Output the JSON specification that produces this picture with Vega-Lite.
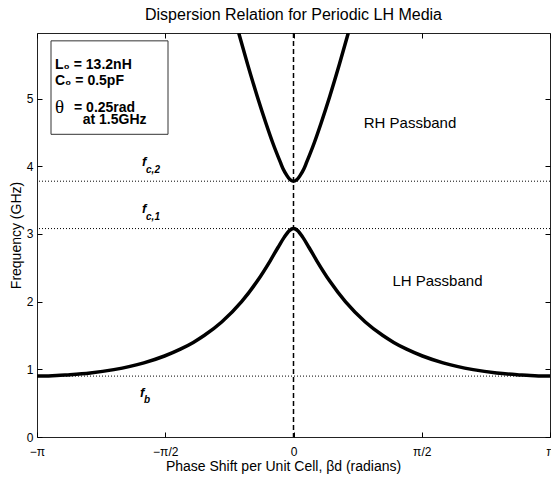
{
  "$schema": "https://vega.github.io/schema/vega-lite/v6.json",
  "width": 513,
  "height": 404,
  "autosize": "none",
  "padding": {"left": 37, "top": 33, "right": 1, "bottom": 44},
  "title": {"text": "Dispersion Relation for Periodic LH Media", "fontSize": 16, "font": "Liberation Sans", "fontWeight": "normal", "color": "black", "offset": 9, "anchor": "middle"},
  "config": {"font": "Liberation Sans", "view": {"stroke": "#222", "strokeWidth": 1}},
  "datasets": {
    "curves": [
      {"band": "LH", "beta": -3.14159, "f": 0.9}, {"band": "LH", "beta": -3.0, "f": 0.902}, {"band": "LH", "beta": -2.9, "f": 0.907}, {"band": "LH", "beta": -2.777, "f": 0.917}, {"band": "LH", "beta": -2.489, "f": 0.946}, {"band": "LH", "beta": -2.2005, "f": 0.996}, {"band": "LH", "beta": -1.8325, "f": 1.096}, {"band": "LH", "beta": -1.5798, "f": 1.197}, {"band": "LH", "beta": -1.3854, "f": 1.298}, {"band": "LH", "beta": -1.2274, "f": 1.398}, {"band": "LH", "beta": -1.0947, "f": 1.499}, {"band": "LH", "beta": -0.8795, "f": 1.7}, {"band": "LH", "beta": -0.6355, "f": 2.0}, {"band": "LH", "beta": -0.4458, "f": 2.3}, {"band": "LH", "beta": -0.2871, "f": 2.6}, {"band": "LH", "beta": -0.1901, "f": 2.8}, {"band": "LH", "beta": -0.1148, "f": 2.95}, {"band": "LH", "beta": -0.0508, "f": 3.05},
      {"band": "LH", "beta": 0, "f": 3.08},
      {"band": "LH", "beta": 0.0508, "f": 3.05}, {"band": "LH", "beta": 0.1148, "f": 2.95}, {"band": "LH", "beta": 0.1901, "f": 2.8}, {"band": "LH", "beta": 0.2871, "f": 2.6}, {"band": "LH", "beta": 0.4458, "f": 2.3}, {"band": "LH", "beta": 0.6355, "f": 2.0}, {"band": "LH", "beta": 0.8795, "f": 1.7}, {"band": "LH", "beta": 1.0947, "f": 1.499}, {"band": "LH", "beta": 1.2274, "f": 1.398}, {"band": "LH", "beta": 1.3854, "f": 1.298}, {"band": "LH", "beta": 1.5798, "f": 1.197}, {"band": "LH", "beta": 1.8325, "f": 1.096}, {"band": "LH", "beta": 2.2005, "f": 0.996}, {"band": "LH", "beta": 2.489, "f": 0.946}, {"band": "LH", "beta": 2.777, "f": 0.917}, {"band": "LH", "beta": 2.9, "f": 0.907}, {"band": "LH", "beta": 3.0, "f": 0.902}, {"band": "LH", "beta": 3.14159, "f": 0.9},
      {"band": "RH", "beta": -0.6709, "f": 5.97}, {"band": "RH", "beta": -0.5638, "f": 5.514}, {"band": "RH", "beta": -0.4427, "f": 5.028}, {"band": "RH", "beta": -0.3386, "f": 4.64}, {"band": "RH", "beta": -0.2546, "f": 4.348}, {"band": "RH", "beta": -0.16, "f": 4.057}, {"band": "RH", "beta": -0.1265, "f": 3.96}, {"band": "RH", "beta": -0.08, "f": 3.862}, {"band": "RH", "beta": -0.0436, "f": 3.804},
      {"band": "RH", "beta": 0, "f": 3.78},
      {"band": "RH", "beta": 0.0436, "f": 3.804}, {"band": "RH", "beta": 0.08, "f": 3.862}, {"band": "RH", "beta": 0.1265, "f": 3.96}, {"band": "RH", "beta": 0.16, "f": 4.057}, {"band": "RH", "beta": 0.2546, "f": 4.348}, {"band": "RH", "beta": 0.3386, "f": 4.64}, {"band": "RH", "beta": 0.4427, "f": 5.028}, {"band": "RH", "beta": 0.5638, "f": 5.514}, {"band": "RH", "beta": 0.6709, "f": 5.97}
    ],
    "levels": [{"f": 3.78}, {"f": 3.08}, {"f": 0.9}],
    "center": [{"beta": 0}],
    "box": [{"b1": -2.97, "b2": -1.537, "f1": 4.473, "f2": 5.854}],
    "boxtext": [
      {"beta": -2.921, "f": 5.498, "text": "L₀ = 13.2nH"},
      {"beta": -2.921, "f": 5.26, "text": "C₀ = 0.5pF"},
      {"beta": -2.688, "f": 4.859, "text": "= 0.25rad"},
      {"beta": -2.582, "f": 4.681, "text": "at 1.5GHz"}
    ],
    "theta": [{"beta": -2.921, "f": 4.875, "text": "θ"}],
    "passband": [
      {"beta": 1.427, "f": 4.636, "text": "RH Passband"},
      {"beta": 1.763, "f": 2.303, "text": "LH Passband"}
    ],
    "fsym": [
      {"beta": -1.855, "f": 4.071, "text": "f"},
      {"beta": -1.855, "f": 3.373, "text": "f"},
      {"beta": -1.88, "f": 0.654, "text": "f"}
    ],
    "fsub": [
      {"beta": -1.806, "f": 3.945, "text": "c,2"},
      {"beta": -1.806, "f": 3.247, "text": "c,1"},
      {"beta": -1.831, "f": 0.55, "text": "b"}
    ]
  },
  "resolve": {"axis": {"x": "independent", "y": "independent"}},
  "layer": [
    {
      "data": {"name": "box"},
      "mark": {"type": "rect", "fill": "white", "stroke": "#333", "strokeWidth": 1},
      "encoding": {
        "x": {"field": "b1", "type": "quantitative", "scale": {"domain": [-3.141592653589793, 3.141592653589793], "nice": false, "zero": false}, "axis": null},
        "x2": {"field": "b2"},
        "y": {"field": "f1", "type": "quantitative", "scale": {"domain": [0, 5.97], "nice": false}, "axis": null},
        "y2": {"field": "f2"}
      }
    },
    {
      "data": {"name": "levels"},
      "mark": {"type": "rule", "color": "black", "strokeWidth": 1, "strokeDash": [1, 2]},
      "encoding": {
        "y": {"field": "f", "type": "quantitative", "axis": {"orient": "right", "values": [0, 1, 2, 3, 4, 5], "labels": false, "tickSize": -5, "tickColor": "black", "domain": false, "grid": false, "title": null}}
      }
    },
    {
      "data": {"name": "center"},
      "mark": {"type": "rule", "color": "black", "strokeWidth": 1.5, "strokeDash": [5, 3]},
      "encoding": {
        "x": {"field": "beta", "type": "quantitative", "axis": {"orient": "top", "values": [-3.141592653589793, -1.5707963267948966, 0, 1.5707963267948966, 3.141592653589793], "labels": false, "tickSize": -5, "tickColor": "black", "domain": false, "grid": false, "title": null}}
      }
    },
    {
      "data": {"name": "curves"},
      "mark": {"type": "line", "color": "black", "strokeWidth": 3.5, "interpolate": "monotone", "clip": true},
      "encoding": {
        "x": {"field": "beta", "type": "quantitative", "axis": {"orient": "bottom", "values": [-3.141592653589793, -1.5707963267948966, 0, 1.5707963267948966, 3.141592653589793], "labelExpr": "datum.value < -3 ? '−π' : datum.value < -1 ? '−π/2' : datum.value > 3 ? 'π' : datum.value > 1 ? 'π/2' : '0'", "labelFlush": false, "labelOverlap": false, "labelFontSize": 12, "labelColor": "black", "labelPadding": 14, "tickSize": -5, "tickColor": "black", "domain": false, "grid": false, "title": "Phase Shift per Unit Cell, βd (radians)", "titleFontSize": 14, "titleFontWeight": "normal", "titleColor": "black", "titlePadding": 2, "titleX": 246}},
        "y": {"field": "f", "type": "quantitative", "axis": {"orient": "left", "values": [0, 1, 2, 3, 4, 5], "labelFontSize": 12, "labelColor": "black", "labelPadding": 9, "tickSize": -5, "tickColor": "black", "domain": false, "grid": false, "title": "Frequency (GHz)", "titleFontSize": 14, "titleFontWeight": "normal", "titleColor": "black", "titlePadding": 3}},
        "detail": {"field": "band"}
      }
    },
    {
      "data": {"name": "boxtext"},
      "mark": {"type": "text", "align": "left", "baseline": "middle", "fontSize": 14, "fontWeight": "bold", "color": "black"},
      "encoding": {
        "x": {"field": "beta", "type": "quantitative", "axis": null},
        "y": {"field": "f", "type": "quantitative", "axis": null},
        "text": {"field": "text"}
      }
    },
    {
      "data": {"name": "theta"},
      "mark": {"type": "text", "align": "left", "baseline": "middle", "fontSize": 19, "font": "Liberation Serif", "color": "black"},
      "encoding": {
        "x": {"field": "beta", "type": "quantitative", "axis": null},
        "y": {"field": "f", "type": "quantitative", "axis": null},
        "text": {"field": "text"}
      }
    },
    {
      "data": {"name": "passband"},
      "mark": {"type": "text", "align": "center", "baseline": "middle", "fontSize": 15, "color": "black"},
      "encoding": {
        "x": {"field": "beta", "type": "quantitative", "axis": null},
        "y": {"field": "f", "type": "quantitative", "axis": null},
        "text": {"field": "text"}
      }
    },
    {
      "data": {"name": "fsym"},
      "mark": {"type": "text", "align": "left", "baseline": "middle", "fontSize": 13, "fontStyle": "italic", "fontWeight": "bold", "color": "black"},
      "encoding": {
        "x": {"field": "beta", "type": "quantitative", "axis": null},
        "y": {"field": "f", "type": "quantitative", "axis": null},
        "text": {"field": "text"}
      }
    },
    {
      "data": {"name": "fsub"},
      "mark": {"type": "text", "align": "left", "baseline": "middle", "fontSize": 10, "fontStyle": "italic", "fontWeight": "bold", "color": "black"},
      "encoding": {
        "x": {"field": "beta", "type": "quantitative", "axis": null},
        "y": {"field": "f", "type": "quantitative", "axis": null},
        "text": {"field": "text"}
      }
    }
  ]
}
